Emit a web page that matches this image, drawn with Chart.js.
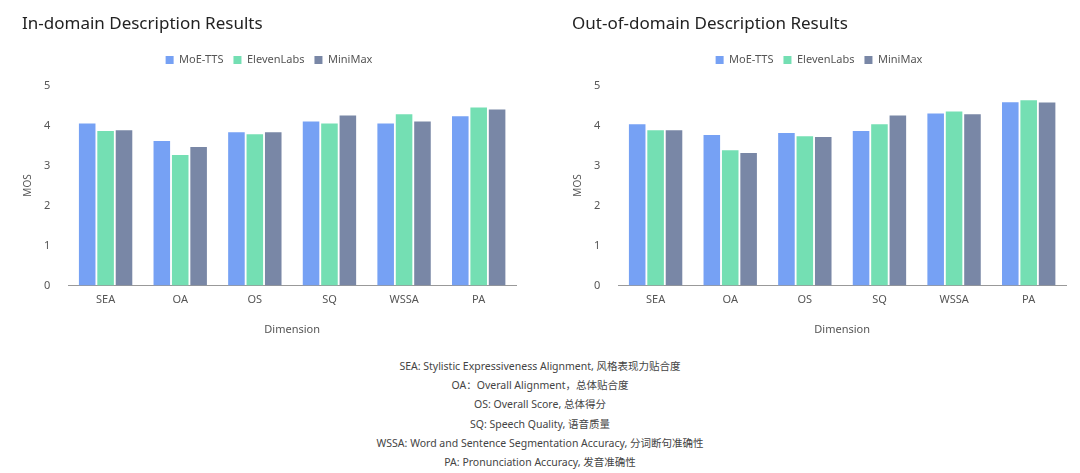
<!DOCTYPE html>
<html>
<head>
<meta charset="utf-8">
<script src="https://cdn.jsdelivr.net/npm/chart.js@4.4.0/dist/chart.umd.min.js"></script>
<style>
body { margin:0; background:#fff; width:1080px; height:473px; overflow:hidden; font-family:"Noto Sans","Noto Sans CJK SC",sans-serif; }
.box { position:absolute; top:0; width:514px; height:340px; }
#notes { position:absolute; left:0; top:357px; width:1080px; text-align:center; font-size:10.5px; color:#444; line-height:19.2px; }
</style>
</head>
<body>
<div class="box" style="left:12px"><canvas id="c1"></canvas></div>
<div class="box" style="left:562px"><canvas id="c2"></canvas></div>
<div id="notes">
SEA: Stylistic Expressiveness Alignment, 风格表现力贴合度<br>
OA：Overall Alignment，总体贴合度<br>
OS: Overall Score, 总体得分<br>
SQ: Speech Quality, 语音质量<br>
WSSA: Word and Sentence Segmentation Accuracy, 分词断句准确性<br>
PA: Pronunciation Accuracy, 发音准确性
</div>
<script>
const categories = ['SEA', 'OA', 'OS', 'SQ', 'WSSA', 'PA'];
const seriesNames = ['MoE-TTS', 'ElevenLabs', 'MiniMax'];
const colors = ['#76a1f4', '#74dfb3', '#7987a6'];

const inMoE = [4.05, 3.61, 3.83, 4.10, 4.05, 4.23];
const inEleven = [3.86, 3.26, 3.78, 4.05, 4.28, 4.45];
const inMiniMax = [3.88, 3.46, 3.83, 4.25, 4.10, 4.40];

const outMoE = [4.03, 3.76, 3.81, 3.86, 4.30, 4.58];
const outEleven = [3.88, 3.38, 3.73, 4.03, 4.35, 4.63];
const outMiniMax = [3.88, 3.31, 3.71, 4.25, 4.28, 4.57];

Chart.defaults.font.family = '"Noto Sans", sans-serif';
Chart.defaults.color = '#555';

function makeChart(id, title, data) {
    new Chart(document.getElementById(id), {
        type: 'bar',
        data: {
            labels: categories,
            datasets: data.map((d, i) => ({
                label: seriesNames[i],
                backgroundColor: colors[i],
                data: d,
                categoryPercentage: 0.74,
                barPercentage: 0.9
            }))
        },
        options: {
            animation: false,
            responsive: true,
            maintainAspectRatio: false,
            layout: { padding: { left: 10, right: 10, top: 6 } },
            plugins: {
                title: { display: true, text: title, align: 'start', color: '#222',
                         font: { size: 17, weight: 'normal' }, padding: { top: 8, bottom: 10 } },
                legend: { labels: { boxWidth: 8, boxHeight: 8, font: { size: 11 }, padding: 10 } },
                tooltip: { enabled: false }
            },
            scales: {
                x: {
                    grid: { display: false, drawTicks: false },
                    border: { color: '#999' },
                    ticks: { font: { size: 11 }, padding: 8 },
                    title: { display: true, text: 'Dimension', font: { size: 11 }, padding: { top: 8 } }
                },
                y: {
                    min: 0, max: 5,
                    grid: { display: false },
                    border: { display: false },
                    ticks: { stepSize: 1, font: { size: 11 }, padding: 10 },
                    title: { display: true, text: 'MOS', font: { size: 10 }, padding: 0 }
                }
            }
        },
        plugins: [{
            id: 'legendGap',
            beforeInit(chart) {
                const fit = chart.legend.fit;
                chart.legend.fit = function () { fit.bind(chart.legend)(); this.height += 10; };
            }
        }]
    });
}

makeChart('c1', 'In-domain Description Results', [inMoE, inEleven, inMiniMax]);
makeChart('c2', 'Out-of-domain Description Results', [outMoE, outEleven, outMiniMax]);
</script>
</body>
</html>
